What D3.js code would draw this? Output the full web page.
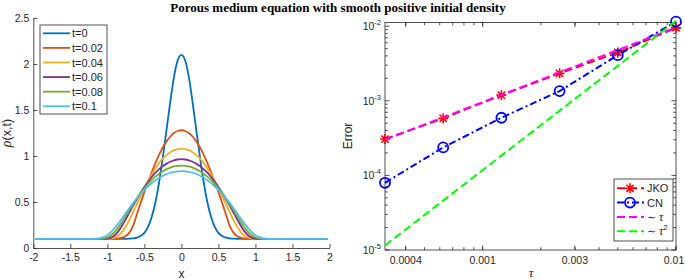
<!DOCTYPE html>
<html>
<head>
<meta charset="utf-8">
<script src="https://cdn.jsdelivr.net/npm/d3@7/dist/d3.min.js"></script>
<style>
  body { margin: 0; background: #fff; }
  text { font-family: "Liberation Sans", Arial, sans-serif; fill: #262626; }
</style>
</head>
<body>
<div id="canvas"></div>
<script>
"use strict"

// DATA - left panel, density profiles

let xs = [-1.97, -1.5, -1.2, -1.15, -1.1, -1.05, -1.0, -0.95, -0.9, -0.85, -0.8, -0.75, -0.7, -0.65, -0.6, -0.55, -0.5, -0.45, -0.4, -0.35, -0.3, -0.25, -0.2, -0.15, -0.1, -0.05,
  0,
  0.05, 0.1, 0.15, 0.2, 0.25, 0.3, 0.35, 0.4, 0.45, 0.5, 0.55, 0.6, 0.65, 0.7, 0.75, 0.8, 0.85, 0.9, 0.95, 1.0, 1.05, 1.1, 1.15, 1.2, 1.5, 1.97];

let rho0 = [0.1, 0.1, 0.1, 0.1, 0.1, 0.1, 0.1, 0.1, 0.1, 0.1, 0.1, 0.1, 0.102, 0.105, 0.113, 0.13, 0.165, 0.23, 0.34, 0.50, 0.72, 0.99, 1.29, 1.59, 1.86, 2.04,
  2.10,
  2.04, 1.86, 1.59, 1.29, 0.99, 0.72, 0.50, 0.34, 0.23, 0.165, 0.13, 0.113, 0.105, 0.102, 0.1, 0.1, 0.1, 0.1, 0.1, 0.1, 0.1, 0.1, 0.1, 0.1, 0.1, 0.1];

let rho002 = [0.1, 0.1, 0.1, 0.1, 0.1, 0.1, 0.1, 0.1, 0.101, 0.104, 0.112, 0.13, 0.17, 0.245, 0.37, 0.49, 0.61, 0.72, 0.825, 0.925, 1.015, 1.095, 1.16, 1.212, 1.25, 1.272,
  1.28,
  1.272, 1.25, 1.212, 1.16, 1.095, 1.015, 0.925, 0.825, 0.72, 0.61, 0.49, 0.37, 0.245, 0.17, 0.13, 0.112, 0.104, 0.101, 0.1, 0.1, 0.1, 0.1, 0.1, 0.1, 0.1, 0.1];

let rho004 = [0.1, 0.1, 0.1, 0.1, 0.1, 0.1, 0.1, 0.103, 0.112, 0.135, 0.175, 0.235, 0.31, 0.395, 0.48, 0.565, 0.648, 0.728, 0.802, 0.868, 0.925, 0.973, 1.012, 1.042, 1.063, 1.076,
  1.08,
  1.076, 1.063, 1.042, 1.012, 0.973, 0.925, 0.868, 0.802, 0.728, 0.648, 0.565, 0.48, 0.395, 0.31, 0.235, 0.175, 0.135, 0.112, 0.103, 0.1, 0.1, 0.1, 0.1, 0.1, 0.1, 0.1];

let rho006 = [0.1, 0.1, 0.1, 0.1, 0.1, 0.1, 0.103, 0.113, 0.138, 0.183, 0.245, 0.316, 0.39, 0.463, 0.533, 0.6, 0.662, 0.72, 0.772, 0.818, 0.857, 0.89, 0.917, 0.938, 0.953, 0.962,
  0.965,
  0.962, 0.953, 0.938, 0.917, 0.89, 0.857, 0.818, 0.772, 0.72, 0.662, 0.6, 0.533, 0.463, 0.39, 0.316, 0.245, 0.183, 0.138, 0.113, 0.103, 0.1, 0.1, 0.1, 0.1, 0.1, 0.1];

let rho008 = [0.1, 0.1, 0.1, 0.1, 0.1, 0.104, 0.115, 0.138, 0.175, 0.225, 0.285, 0.35, 0.415, 0.48, 0.541, 0.598, 0.65, 0.697, 0.739, 0.776, 0.808, 0.835, 0.857, 0.874, 0.886, 0.893,
  0.895,
  0.893, 0.886, 0.874, 0.857, 0.835, 0.808, 0.776, 0.739, 0.697, 0.65, 0.598, 0.541, 0.48, 0.415, 0.35, 0.285, 0.225, 0.175, 0.138, 0.115, 0.104, 0.1, 0.1, 0.1, 0.1, 0.1];

let rho01 = [0.1, 0.1, 0.1, 0.101, 0.106, 0.118, 0.14, 0.173, 0.217, 0.268, 0.323, 0.381, 0.438, 0.492, 0.542, 0.589, 0.632, 0.671, 0.706, 0.737, 0.764, 0.786, 0.804, 0.818, 0.828, 0.833,
  0.835,
  0.833, 0.828, 0.818, 0.804, 0.786, 0.764, 0.737, 0.706, 0.671, 0.632, 0.589, 0.542, 0.492, 0.438, 0.381, 0.323, 0.268, 0.217, 0.173, 0.14, 0.118, 0.106, 0.101, 0.1, 0.1, 0.1];

let timeLabels = ["t=0", "t=0.02", "t=0.04", "t=0.06", "t=0.08", "t=0.1"];
let profiles = [rho0, rho002, rho004, rho006, rho008, rho01];
let timeColors = ["#0072BD", "#D95319", "#EDB120", "#7E2F8E", "#77AC30", "#4DBEEE"];

let xTicksL = [-2, -1.5, -1, -0.5, 0, 0.5, 1, 1.5, 2];
let yTicksL = [0, 0.5, 1, 1.5, 2, 2.5];

// DATA - right panel, errors vs time step

let tau = [0.0003125, 0.000625, 0.00125, 0.0025, 0.005, 0.01];
let errJKO = [3.07e-4, 5.81e-4, 1.19e-3, 2.33e-3, 4.44e-3, 9.5e-3];
let errCN = [7.96e-5, 2.37e-4, 5.92e-4, 1.35e-3, 4.09e-3, 1.15e-2];
let refTau = [3.0e-4, 6.0e-4, 1.2e-3, 2.4e-3, 4.8e-3, 9.6e-3];
let refTau2 = [1.15e-5, 4.6e-5, 1.84e-4, 7.36e-4, 2.94e-3, 1.18e-2];

let xTicksR = [0.0004, 0.001, 0.003, 0.01];
let xTickLabelsR = ["0.0004", "0.001", "0.003", "0.01"];
let yTicksR = [1e-5, 1e-4, 1e-3, 1e-2];
let yTickExpR = ["-5", "-4", "-3", "-2"];

// CANVAS

let svgWidth = 685;
let svgHeight = 280;
let axisColor = "#262626";

let svg = d3.select("#canvas")
    .append("svg")
    .attr("width", svgWidth)
    .attr("height", svgHeight);

svg.append("text")
    .attr("x", 338)
    .attr("y", 12)
    .attr("text-anchor", "middle")
    .style("font-family", "'Liberation Serif', 'Times New Roman', serif")
    .style("font-weight", "bold")
    .style("font-size", "13px")
    .style("fill", "#000")
    .text("Porous medium equation with smooth positive initial density");

// LEFT PANEL

let xL = d3.scaleLinear().domain([-2, 2]).range([33.3, 329.5]);
let yL = d3.scaleLinear().domain([0, 2.5]).range([248, 18]);

let line = d3.line()
    .x(function (d) { return xL(d[0]); })
    .y(function (d) { return yL(d[1]); })
    .curve(d3.curveMonotoneX);

for (let i = 0; i < profiles.length; i++) {
    let pts = xs.map(function (x, j) { return [x, profiles[i][j]]; });
    svg.append("path")
        .attr("d", line(pts))
        .attr("fill", "none")
        .attr("stroke", timeColors[i])
        .attr("stroke-width", 1.8);
}

let xAxisL = svg.append("g")
    .attr("transform", "translate(0," + yL(0) + ")")
    .call(d3.axisBottom(xL).tickValues(xTicksL).tickSizeInner(-4).tickSizeOuter(0).tickPadding(6)
        .tickFormat(function (d) { return String(d); }));

let yAxisL = svg.append("g")
    .attr("transform", "translate(" + xL(-2) + ",0)")
    .call(d3.axisLeft(yL).tickValues(yTicksL).tickSizeInner(-4).tickSizeOuter(0).tickPadding(4)
        .tickFormat(function (d) { return String(d); }));

[xAxisL, yAxisL].forEach(function (g) {
    g.select(".domain").attr("stroke", axisColor).attr("stroke-width", 0.8);
    g.selectAll(".tick line").attr("stroke", axisColor).attr("stroke-width", 0.8);
    g.selectAll(".tick text").style("font-size", "10.5px").style("fill", axisColor)
        .style("font-family", "'Liberation Sans', Arial, sans-serif");
});

svg.append("text")
    .attr("x", xL(0))
    .attr("y", 278)
    .attr("text-anchor", "middle")
    .style("font-size", "12px")
    .text("x");

svg.append("text")
    .attr("transform", "translate(11," + yL(1.25) + ") rotate(-90)")
    .attr("text-anchor", "middle")
    .style("font-size", "12.5px")
    .html("<tspan font-style='italic' font-family='Liberation Serif, serif' font-size='14px'>\u03C1</tspan>(x,t)");

// left legend
let legL = svg.append("g");
legL.append("rect")
    .attr("x", 40).attr("y", 25)
    .attr("width", 67).attr("height", 89)
    .attr("fill", "#fff")
    .attr("stroke", axisColor)
    .attr("stroke-width", 0.8);

for (let i = 0; i < timeLabels.length; i++) {
    let ly = 33.3 + i * 14.6;
    legL.append("line")
        .attr("x1", 43).attr("x2", 70)
        .attr("y1", ly).attr("y2", ly)
        .attr("stroke", timeColors[i])
        .attr("stroke-width", 1.8);
    legL.append("text")
        .attr("x", 72)
        .attr("y", ly + 4)
        .style("font-size", "11px")
        .text(timeLabels[i]);
}

// RIGHT PANEL

let xR = d3.scaleLog().domain([0.0003125, 0.01]).range([385, 676]);
let yR = d3.scaleLog().domain([1e-5, 0.0112]).range([250, 22.5]);

// minor tick values for the log axes
let minorX = [];
for (let k = -4; k <= -2; k++) {
    for (let n = 1; n <= 9; n++) {
        let v = n * Math.pow(10, k);
        if (v >= 0.0003125 && v <= 0.01) minorX.push(v);
    }
}
let minorY = [];
for (let k = -5; k <= -2; k++) {
    for (let n = 1; n <= 9; n++) {
        let v = n * Math.pow(10, k);
        if (v >= 1e-5 && v <= 0.0112) minorY.push(v);
    }
}

let xr0 = xR.range()[0], xr1 = xR.range()[1];
let yr0 = yR.range()[0], yr1 = yR.range()[1];

svg.append("rect")
    .attr("x", xr0)
    .attr("y", yr1)
    .attr("width", xr1 - xr0)
    .attr("height", yr0 - yr1)
    .attr("fill", "none")
    .attr("stroke", axisColor)
    .attr("stroke-width", 0.8);

let tickG = svg.append("g").attr("stroke", axisColor).attr("stroke-width", 0.8);

minorX.forEach(function (v) {
    let len = 2.8;
    tickG.append("line").attr("x1", xR(v)).attr("x2", xR(v)).attr("y1", yr0).attr("y2", yr0 - len);
    tickG.append("line").attr("x1", xR(v)).attr("x2", xR(v)).attr("y1", yr1).attr("y2", yr1 + len);
});
xTicksR.forEach(function (v) {
    tickG.append("line").attr("x1", xR(v)).attr("x2", xR(v)).attr("y1", yr0).attr("y2", yr0 - 4.5);
    tickG.append("line").attr("x1", xR(v)).attr("x2", xR(v)).attr("y1", yr1).attr("y2", yr1 + 4.5);
});
minorY.forEach(function (v) {
    let len = yTicksR.indexOf(v) >= 0 ? 4.5 : 2.8;
    tickG.append("line").attr("y1", yR(v)).attr("y2", yR(v)).attr("x1", xr0).attr("x2", xr0 + len);
    tickG.append("line").attr("y1", yR(v)).attr("y2", yR(v)).attr("x1", xr1).attr("x2", xr1 - len);
});

for (let i = 0; i < xTicksR.length; i++) {
    svg.append("text")
        .attr("x", Math.min(xR(xTicksR[i]), 674))
        .attr("y", 264)
        .attr("text-anchor", "middle")
        .style("font-size", "10.5px")
        .text(xTickLabelsR[i]);
}

for (let i = 0; i < yTicksR.length; i++) {
    let t = svg.append("text")
        .attr("x", 381)
        .attr("y", yR(yTicksR[i]) + 4)
        .attr("text-anchor", "end")
        .style("font-size", "10.5px");
    t.append("tspan").text("10");
    t.append("tspan").attr("dy", -5).style("font-size", "7.5px").text(yTickExpR[i]);
}

svg.append("text")
    .attr("transform", "translate(352,136) rotate(-90)")
    .attr("text-anchor", "middle")
    .style("font-size", "12px")
    .text("Error");

svg.append("text")
    .attr("x", 531)
    .attr("y", 277)
    .attr("text-anchor", "middle")
    .style("font-family", "'Liberation Serif', serif")
    .style("font-style", "italic")
    .style("font-size", "13px")
    .text("\u03C4");

let lineR = d3.line()
    .x(function (d) { return xR(d[0]); })
    .y(function (d) { return yR(d[1]); });

function zipTau(vals) {
    return tau.map(function (t, i) { return [t, vals[i]]; });
}

function asterisk(g, cx, cy, s, color) {
    let d = s * 0.72;
    g.append("path")
        .attr("d", "M" + (cx - s) + "," + cy + "L" + (cx + s) + "," + cy +
            "M" + cx + "," + (cy - s) + "L" + cx + "," + (cy + s) +
            "M" + (cx - d) + "," + (cy - d) + "L" + (cx + d) + "," + (cy + d) +
            "M" + (cx - d) + "," + (cy + d) + "L" + (cx + d) + "," + (cy - d))
        .attr("stroke", color)
        .attr("stroke-width", 1.6)
        .attr("fill", "none");
}

// JKO
svg.append("path")
    .attr("d", lineR(zipTau(errJKO)))
    .attr("fill", "none")
    .attr("stroke", "#FF0000")
    .attr("stroke-width", 2)
    .attr("stroke-dasharray", "8,4");
let jkoMarks = svg.append("g");
tau.forEach(function (t, i) { asterisk(jkoMarks, xR(t), yR(errJKO[i]), 5, "#FF0000"); });

// CN
svg.append("path")
    .attr("d", lineR(zipTau(errCN)))
    .attr("fill", "none")
    .attr("stroke", "#0000FF")
    .attr("stroke-width", 2)
    .attr("stroke-dasharray", "7,3,2,3");
svg.selectAll(".cn")
    .data(zipTau(errCN))
    .join("circle")
    .attr("class", "cn")
    .attr("cx", function (d) { return xR(d[0]); })
    .attr("cy", function (d) { return yR(d[1]); })
    .attr("r", 5)
    .attr("fill", "none")
    .attr("stroke", "#0000FF")
    .attr("stroke-width", 1.8);

// reference slopes
svg.append("path")
    .attr("d", lineR(zipTau(refTau)))
    .attr("fill", "none")
    .attr("stroke", "#FF00FF")
    .attr("stroke-width", 2)
    .attr("stroke-dasharray", "8,4");

svg.append("path")
    .attr("d", lineR(zipTau(refTau2)))
    .attr("fill", "none")
    .attr("stroke", "#00FF00")
    .attr("stroke-width", 2)
    .attr("stroke-dasharray", "8,4");

// right legend
let legR = svg.append("g");
legR.append("rect")
    .attr("x", 614).attr("y", 179)
    .attr("width", 59).attr("height", 62)
    .attr("fill", "#fff")
    .attr("stroke", axisColor)
    .attr("stroke-width", 0.8);

let legRows = [
    { color: "#FF0000", dash: "8,4", marker: "star", label: "JKO" },
    { color: "#0000FF", dash: "7,3,2,3", marker: "circle", label: "CN" },
    { color: "#FF00FF", dash: "8,4", marker: "none", label: "tau" },
    { color: "#00FF00", dash: "8,4", marker: "none", label: "tau2" }
];

legRows.forEach(function (row, i) {
    let ly = 188.3 + i * 14.3;
    legR.append("line")
        .attr("x1", 617).attr("x2", 644)
        .attr("y1", ly).attr("y2", ly)
        .attr("stroke", row.color)
        .attr("stroke-width", 2)
        .attr("stroke-dasharray", row.dash);
    if (row.marker == "star") asterisk(legR, 630, ly, 5, row.color);
    if (row.marker == "circle") {
        legR.append("circle").attr("cx", 630).attr("cy", ly).attr("r", 5)
            .attr("fill", "none").attr("stroke", row.color).attr("stroke-width", 1.8);
    }
    let t = legR.append("text")
        .attr("x", 647)
        .attr("y", ly + 4)
        .style("font-size", "11px");
    if (row.label == "JKO" || row.label == "CN") {
        t.text(row.label);
    } else {
        t.append("tspan").text("\u223C ");
        t.append("tspan").style("font-family", "'Liberation Serif', serif").style("font-style", "italic")
            .style("font-size", "12px").text("\u03C4");
        if (row.label == "tau2") {
            t.append("tspan").attr("dy", -5).style("font-size", "8px").text("2");
        }
    }
});
</script>
</body>
</html>
